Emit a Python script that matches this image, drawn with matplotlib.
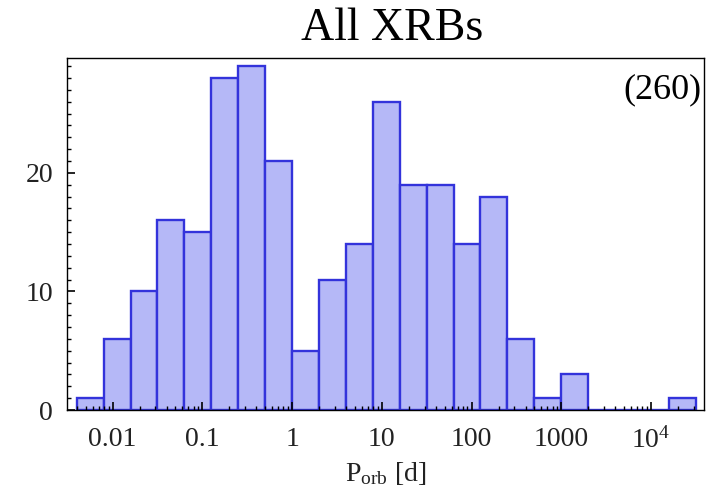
"""
Orbital period histogram for all XRBs, log-spaced bins of 0.3 dex.
"""
import numpy as np
import matplotlib
matplotlib.use("Agg")
import matplotlib.pyplot as plt
from matplotlib.ticker import MultipleLocator, LogLocator, NullFormatter

plt.rcParams['font.family'] = ['Liberation Serif', 'DejaVu Serif']
plt.rcParams['mathtext.fontset'] = 'custom'
plt.rcParams['mathtext.rm'] = 'Liberation Serif'
plt.rcParams['mathtext.it'] = 'Liberation Serif:italic'

# log10 bin edges (0.3 dex wide) and counts per bin
BIN_EDGES_LOG = [-2.4, -2.1, -1.8, -1.5, -1.2, -0.9, -0.6, -0.3, 0.0,
                 0.3, 0.6, 0.9, 1.2, 1.5, 1.8, 2.1, 2.4, 2.7, 3.0, 3.3,
                 3.6, 3.9, 4.2, 4.5]
COUNTS = [1, 6, 10, 16, 15, 28, 29, 21,
          5, 11, 14, 26, 19, 19, 14, 18, 6, 1, 3,
          0, 0, 0, 1]
TICK_VALUES = [0.01, 0.1, 1, 10, 100, 1000, 1e4]
TICK_LABELS = ["0.01", "0.1", "1", "10", "100", "1000", r"$10^4$"]
N_TOTAL = 260

edges = 10 ** np.array(BIN_EDGES_LOG)
counts = np.array(COUNTS)

fig = plt.figure(figsize=(7.19, 4.94), dpi=100)
ax = fig.add_axes([0.093, 0.170, 0.886, 0.713])

ax.hist(edges[:-1], bins=edges, weights=counts,
        color=(0.71, 0.72, 0.97), edgecolor=(0.2, 0.2, 0.86), linewidth=1.7)

ax.set_xscale('log')
ax.set_xlim(10 ** -2.51, 10 ** 4.59)
ax.set_ylim(0, 29.7)

ax.set_xticks(TICK_VALUES)
ax.set_xticklabels(TICK_LABELS)
ax.xaxis.set_minor_locator(LogLocator(base=10, subs=np.arange(2, 10), numticks=20))
ax.xaxis.set_minor_formatter(NullFormatter())
ax.yaxis.set_major_locator(MultipleLocator(10))
ax.yaxis.set_minor_locator(MultipleLocator(1))

ax.tick_params(which='both', direction='in', top=False, right=False,
               labelsize=20, labelcolor='#222222')
ax.tick_params(which='major', length=6, width=1.2)
ax.tick_params(which='minor', length=3, width=1.0)
ax.tick_params(axis='x', pad=12)
ax.tick_params(axis='y', pad=10)
for s in ax.spines.values():
    s.set_linewidth(1.0)

ax.set_xlabel(r"$\mathrm{P_{orb}}$ [d]", fontsize=20, labelpad=5, color='#222222')
ax.text(0.997, 0.955, f"({N_TOTAL})", transform=ax.transAxes,
        ha='right', va='top', fontsize=26)
fig.text(0.545, 0.942, "All XRBs", ha='center', va='center', fontsize=33)

fig.savefig("out.png", dpi=100)
